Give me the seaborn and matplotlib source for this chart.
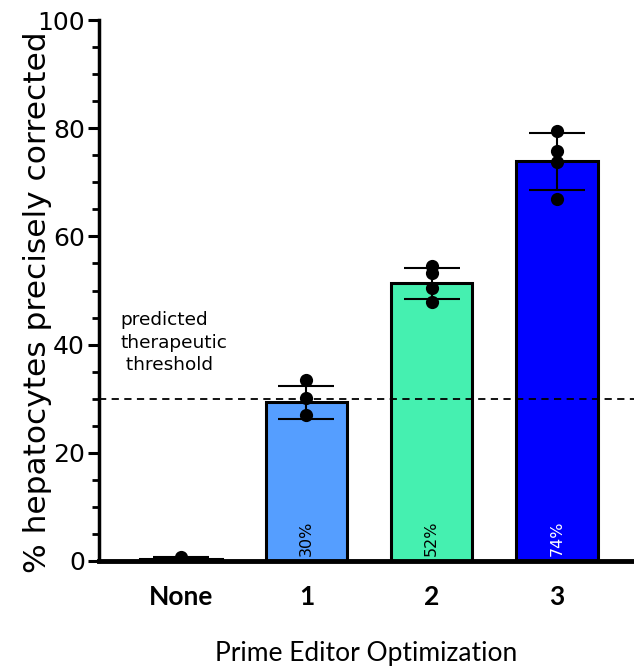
import matplotlib
matplotlib.use("Agg")
import matplotlib.pyplot as plt
import seaborn as sns
import pandas as pd
import numpy as np
from matplotlib.ticker import MultipleLocator

categories = ["None", "1", "2", "3"]
bar_means = [0.4, 29.3, 51.3, 73.9]
bar_sd = [0.3, 3.0, 2.9, 5.3]
bar_colors = ["#FFFFFF", "#559EFF", "#45F0B0", "#0000FF"]
label_texts = ["", "30%", "52%", "74%"]
label_colors = ["black", "black", "black", "white"]
rep_none = [0.7]
rep_1 = [33.5, 30.2, 27.0]
rep_2 = [54.6, 53.2, 50.5, 47.9]
rep_3 = [79.5, 75.8, 73.8, 66.9]
threshold = 30

sns.set_theme(style="ticks")
plt.rcParams['font.family'] = ['DejaVu Sans']
plt.rcParams['text.color'] = 'black'
plt.rcParams['axes.labelcolor'] = 'black'
plt.rcParams['xtick.color'] = 'black'
plt.rcParams['ytick.color'] = 'black'
plt.rcParams['axes.edgecolor'] = 'black'

fig = plt.figure(figsize=(6.34, 6.66), dpi=100)
ax = fig.add_axes([99/634, 105/666, (634-99)/634, 541/666])

bars_df = pd.DataFrame({"group": categories, "value": bar_means})
sns.barplot(data=bars_df, x="group", y="value", order=categories,
            hue="group", palette=dict(zip(categories, bar_colors)), legend=False,
            saturation=1, width=0.65, edgecolor="black", linewidth=2.2,
            errorbar=None, ax=ax)

ax.errorbar(np.arange(len(categories)), bar_means, yerr=bar_sd, fmt="none",
            ecolor="black", elinewidth=1.5, capsize=20, capthick=1.5, zorder=3)

reps = [rep_none, rep_1, rep_2, rep_3]
pts = pd.DataFrame({"group": [c for c, r in zip(categories, reps) for _ in r],
                    "value": [v for r in reps for v in r]})
sns.stripplot(data=pts, x="group", y="value", order=categories, jitter=False,
              color="black", size=9.5, ax=ax, zorder=4)

ax.axhline(threshold, color="black", linestyle=(0, (4, 3)), linewidth=1.3, zorder=1)
ax.text(-0.488, 40.3, "predicted\ntherapeutic\n threshold", ha="left", va="center",
        fontsize=13.3, linespacing=1.32, family="DejaVu Sans", color="black")

for i, (t, c) in enumerate(zip(label_texts, label_colors)):
    if t:
        ax.text(i, 1.0, t, rotation=90, ha="center", va="bottom", fontsize=11.5, color=c)

ax.set_xlim(-0.656, 3.616)
ax.set_ylim(0, 100)
ax.yaxis.set_major_locator(MultipleLocator(20))
ax.yaxis.set_minor_locator(MultipleLocator(5))
ax.tick_params(axis="y", which="major", length=8, width=2.2, labelsize=18, pad=2)
ax.tick_params(axis="y", which="minor", length=5, width=2.0)
ax.tick_params(axis="x", length=0, pad=17)
for lab in ax.get_xticklabels():
    lab.set_fontfamily("Lato")
    lab.set_fontweight("bold")
    lab.set_fontsize(19)
ax.set_ylabel("% hepatocytes precisely corrected", fontsize=22.5)
ax.yaxis.set_label_coords(-0.088, 0.478)
ax.set_xlabel("Prime Editor Optimization", fontsize=19, family="Lato", labelpad=23)
ax.spines["left"].set_linewidth(2.5)
ax.spines["bottom"].set_linewidth(3.5)
sns.despine(ax=ax, top=True, right=True)
ax.set_facecolor("white")
fig.patch.set_facecolor("white")

fig.savefig("out.png", dpi=100)
